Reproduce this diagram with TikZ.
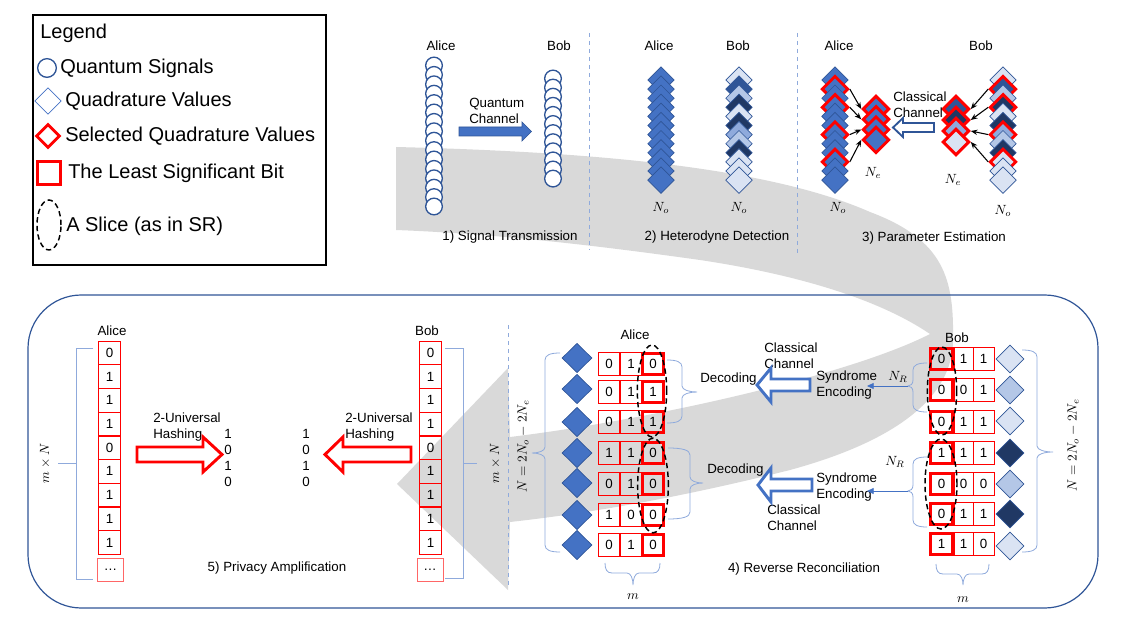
\documentclass[tikz,border=0pt]{standalone}
\usepackage{fontspec}
\setmainfont{Liberation Sans}
\usetikzlibrary{shapes.geometric,arrows.meta}
\definecolor{bA}{HTML}{4472C4}
\definecolor{bD}{HTML}{2F5597}
\definecolor{bN}{HTML}{203864}
\definecolor{bL}{HTML}{DAE3F3}
\definecolor{bM}{HTML}{B4C7E7}
\definecolor{bMM}{HTML}{8FAADC}
\definecolor{rd}{HTML}{FF0000}
\definecolor{gr}{HTML}{D9D9D9}
\newcommand\myBraceV[6]{%
 \draw[brc] ({#1+(#5)},#2) .. controls ({#1+0.35*(#5)},#2) and (#1,{#2+2}) .. (#1,{#2+7})
   -- (#1,{#4-6}) .. controls (#1,{#4-2}) and ({#1+0.5*(#6)},#4) .. ({#1+(#6)},#4)
   .. controls ({#1+0.5*(#6)},#4) and (#1,{#4+2}) .. (#1,{#4+6})
   -- (#1,{#3-7}) .. controls (#1,{#3-2}) and ({#1+0.35*(#5)},#3) .. ({#1+(#5)},#3);}
\newcommand\myBraceH[6]{%
 \draw[brc] (#2,{#1+(#5)}) .. controls (#2,{#1+0.35*(#5)}) and ({#2+2},#1) .. ({#2+7},#1)
  -- ({#4-6},#1) .. controls ({#4-2},#1) and (#4,{#1+0.5*(#6)}) .. (#4,{#1+(#6)})
  .. controls (#4,{#1+0.5*(#6)}) and ({#4+2},#1) .. ({#4+6},#1)
  -- ({#3-7},#1) .. controls ({#3-2},#1) and (#3,{#1+0.35*(#5)}) .. (#3,{#1+(#5)});}
\begin{document}
\begin{tikzpicture}[x=0.75pt,y=-0.75pt,
 txt/.style={inner sep=0pt, font=\fontsize{10}{12}\selectfont},
 leg/.style={inner sep=0pt, anchor=west, font=\fontsize{15}{18}\selectfont},
 sig/.style={circle, draw=bD, line width=1pt, fill=white, minimum size=12.5pt, inner sep=0pt},
 dia/.style={diamond, draw=bD, line width=0.5pt, minimum width=20pt, minimum height=20pt, inner sep=0pt},
 diar/.style={dia, draw=rd, line width=2.2pt},
 cell/.style={rectangle, draw=rd, line width=0.6pt, minimum width=16pt, minimum height=17.5pt, inner sep=0pt, font=\fontsize{10}{12}\selectfont},
 cellk/.style={cell, line width=2.2pt, minimum width=15.8pt, minimum height=15.8pt},
 pcell/.style={cell, minimum width=17pt, minimum height=17.6pt},
 slice/.style={ellipse, draw=black, dash pattern=on 4pt off 2.5pt, line width=1.1pt, inner sep=0pt},
 brc/.style={draw=bMM, line width=0.6pt},
 sepl/.style={draw=bMM, dashed, line width=0.6pt},
 arr/.style={draw=black, line width=0.8pt, -{Stealth[length=5pt,width=4pt]}},
 barr/.style={draw=bA, line width=0.6pt, -{Triangle[length=5pt,width=4.5pt]}},
]
\useasboundingbox (0,0) rectangle (1131,620);
% big grey process arrow
\fill[gr] (396,147) .. controls (600,152) and (770,168) .. (870,212)
  .. controls (945,240) and (954,280) .. (953,340)
  .. controls (953,395) and (900,440) .. (790,470)
  .. controls (690,495) and (600,512) .. (510,522)
  -- (508,590) -- (397,484) -- (508,368) -- (510,437)
  .. controls (650,420) and (850,375) .. (930,334)
  .. controls (880,300) and (800,275) .. (700,260)
  .. controls (600,246) and (500,234) .. (396,230) -- cycle;
% bottom frame
\draw[bD, line width=0.9pt, rounded corners=40pt] (28,295) rectangle (1098,608);
% ---------------- legend
\draw[black, line width=0.9pt] (33,15) rectangle (326,265);
\node[leg] (legT) at (40,33) {Legend};
\node[sig, minimum size=14pt] (lgC) at (47,68) {};
\node[leg] (lgCt) at (60,68) {Quantum Signals};
\node[dia, draw=bA, minimum width=20pt, minimum height=20pt] (lgD) at (48,101) {};
\node[leg] (lgDt) at (65,101) {Quadrature Values};
\node[diar, fill=white, minimum width=18pt, minimum height=18pt] (lgR) at (48,136) {};
\node[leg] (lgRt) at (65,136) {Selected Quadrature Values};
\node[rectangle, draw=rd, line width=2.2pt, minimum size=17pt, inner sep=0pt] (lgS) at (49,173) {};
\node[leg] (lgSt) at (68,173) {The Least Significant Bit};
\node[slice, minimum width=18pt, minimum height=37.5pt] (lgE) at (49,225) {};
\node[leg] (lgEt) at (66,226) {A Slice (as in SR)};
% ---------------- 1) signal transmission
\node[txt] (s1A) at (441,46) {Alice};
\node[txt] (s1B) at (559,46) {Bob};
\foreach \i in {1,...,16} \node[sig] (qa\i) at (434,{65.5+9.4*(\i-1)}) {};
\foreach \i in {1,...,12} \node[sig] (qb\i) at (553,{78.5+9.1*(\i-1)}) {};
\node[txt, align=left, anchor=west] (qch) at (469,111) {Quantum\\Channel};
\filldraw[fill=bA, draw=bD, line width=0.5pt] (459,127) -- (522,127) -- (522,122) -- (531.5,131.5) -- (522,141) -- (522,136) -- (459,136) -- cycle;
\node[txt] (t1) at (510,237) {1) Signal Transmission};
\draw[sepl] (589,33) -- (589,250);
\draw[sepl] (797,33) -- (797,255);
% ---------------- 2) heterodyne detection
\node[txt] (s2A) at (659,46) {Alice};
\node[txt] (s2B) at (738,46) {Bob};
\foreach \i in {1,...,12} \node[dia, fill=bA] (ha\i) at (661,{80+9.1*(\i-1)}) {};
\foreach \i/\c in {1/bL,2/bD,3/bM,4/bN,5/bL,6/bN,7/bMM,8/bM,9/bN,10/bL,11/bL,12/bL}
  \node[dia, fill=\c] (hb\i) at (739,{80+9.1*(\i-1)}) {};
\node[txt] (n2a) at (661,208) {$N_o$};
\node[txt] (n2b) at (739,208) {$N_o$};
\node[txt] (t2) at (717,237) {2) Heterodyne Detection};
% ---------------- 3) parameter estimation
\node[txt] (s3A) at (839,46) {Alice};
\node[txt] (s3B) at (981,46) {Bob};
\foreach \i/\s in {1/dia,2/diar,3/dia,4/diar,5/dia,6/dia,7/diar,8/dia,9/dia,10/diar,11/dia,12/dia}
  \node[\s, fill=bA] (pa\i) at (835,{80+9.1*(\i-1)}) {};
\foreach \i/\s/\c in {1/dia/bL,2/diar/bD,3/dia/bM,4/diar/bN,5/dia/bL,6/dia/bN,7/diar/bMM,8/dia/bM,9/dia/bN,10/diar/bL,11/dia/bL,12/dia/bL}
  \node[\s, fill=\c] (pb\i) at (1003,{80+9.1*(\i-1)}) {};
\foreach \i in {1,...,4} \node[diar, fill=bA] (sa\i) at (876,{109+10.3*(\i-1)}) {};
\foreach \i/\c in {1/bD,2/bN,3/bMM,4/bL} \node[diar, fill=\c] (sb\i) at (956,{109+11*(\i-1)}) {};
\draw[arr] (pa2.east) -- (sa1.west);
\draw[arr] (pa4.east) -- (sa2.west);
\draw[arr] (pa7.east) -- (sa3.west);
\draw[arr] (pa10.east) -- (sa4.west);
\draw[arr] (pb2.west) -- (sb1.east);
\draw[arr] (pb4.west) -- (sb2.east);
\draw[arr] (pb7.west) -- (sb3.east);
\draw[arr] (pb10.west) -- (sb4.east);
\node[txt, align=left, anchor=west] (cc0) at (893,105) {Classical\\Channel};
\filldraw[fill=white, draw=bD, line width=1.4pt] (934,123) -- (903,123) -- (903,118) -- (893,127.5) -- (903,137) -- (903,132) -- (934,132) -- cycle;
\node[txt] (ne1) at (873,173) {$N_e$};
\node[txt] (ne2) at (953,180) {$N_e$};
\node[txt] (n3a) at (838,208) {$N_o$};
\node[txt] (n3b) at (1003,211) {$N_o$};
\node[txt] (t3) at (934,238) {3) Parameter Estimation};
% ---------------- 5) privacy amplification
\node[txt] (pA) at (112,331) {Alice};
\node[txt] (pB) at (427,331) {Bob};
\foreach \i/\d in {1/0,2/1,3/1,4/1,5/0,6/1,7/1,8/1,9/1} {
  \node[pcell] (ca\i) at (109.5,{352.9+23.7*(\i-1)}) {\d};
  \node[pcell] (cb\i) at (430.5,{352.9+23.7*(\i-1)}) {\d};
}
\node[pcell, draw=rd!60, minimum width=19.5pt] (ca10) at (110.5,570) {\ldots};
\node[pcell, draw=rd!60, minimum width=19.5pt] (cb10) at (430,570) {\ldots};
\draw[brc] (93,348) -- (76,348) -- (76,579) -- (93,579);
\draw[brc] (76,463) -- (58,463);
\draw[brc] (445,348) -- (463,348) -- (463,578) -- (445,578);
\draw[brc] (463,463) -- (477,463);
\node[txt, rotate=90] (mnA) at (45,463) {$m\times N$};
\node[txt, rotate=90] (mnB) at (495,463) {$m\times N$};
\node[txt, align=left, anchor=west] (hA) at (153,427) {2-Universal\\Hashing};
\node[txt, align=left, anchor=west] (hB) at (345,427) {2-Universal\\Hashing};
\filldraw[fill=white, draw=rd, line width=2.2pt] (137,447) -- (203,447) -- (203,437) -- (222,454.5) -- (203,472) -- (203,462) -- (137,462) -- cycle;
\filldraw[fill=white, draw=rd, line width=2.2pt] (411,447) -- (343,447) -- (343,437) -- (325,454.5) -- (343,472) -- (343,462) -- (411,462) -- cycle;
\node[txt, align=center] (ho1) at (228,457.5) {1\\0\\1\\0};
\node[txt, align=center] (ho2) at (306,457.5) {1\\0\\1\\0};
\node[txt] (t5) at (277,568) {5) Privacy Amplification};
\draw[sepl] (508,325) -- (508,588);
% ---------------- 4) reverse reconciliation: Alice
\node[txt] (rA) at (635,335) {Alice};
\foreach \i/\y in {1/358,2/389,3/422,4/453,5/483,6/515,7/545}
  \node[dia, fill=bA, minimum width=22.5pt, minimum height=22pt] (rd\i) at (577,\y) {};
\foreach \i/\y/\a/\b/\c in {1/364/0/1/0,2/392/0/1/1,3/422/0/1/1,4/453/1/1/0,5/484/0/1/0,6/515/1/0/0,7/545/0/1/0} {
  \node[cell] (rax\i) at (609,\y) {\a};
  \node[cell] (ray\i) at (631,\y) {\b};
  \node[cellk] (raz\i) at (653,\y) {\c};
}
\node[slice, minimum width=22pt, minimum height=69pt] (slA1) at (652,391) {};
\node[slice, minimum width=23pt, minimum height=71pt] (slA2) at (653,485.5) {};
\myBraceV{545}{353}{552}{453}{15}{-13}
\node[txt, rotate=90] (nA) at (523,446) {$N=2N_o-2N_e$};
\myBraceV{682}{360}{423}{392}{-15}{15}
\myBraceV{690}{448}{519}{483}{-22}{13}
\myBraceH{573}{605}{660}{633}{-10}{12}
\node[txt] (mA) at (633,597) {$m$};
% ---------------- reverse reconciliation: Bob
\node[txt] (rB) at (957,338) {Bob};
\foreach \i/\y/\c in {1/359/bL,2/390/bM,3/421/bL,4/453/bN,5/484/bM,6/514/bN,7/546/bL}
  \node[dia, fill=\c, minimum width=21pt, minimum height=21pt] (re\i) at (1010,\y) {};
\foreach \i/\y/\a/\b/\c in {1/359/0/1/1,2/390/0/0/1,3/422/0/1/1,4/453/1/1/1,5/484/0/0/0,6/514/0/1/1,7/544/1/1/0} {
  \node[cellk, minimum width=16.5pt] (rbx\i) at (941.5,\y) {\a};
  \node[cell, minimum width=14.2pt] (rby\i) at (963.5,\y) {\b};
  \node[cell, minimum width=15.7pt] (rbz\i) at (983.5,\y) {\c};
}
\node[slice, minimum width=22pt, minimum height=66pt] (slB1) at (942,391) {};
\node[slice, minimum width=24pt, minimum height=67.5pt] (slB2) at (941,484) {};
\myBraceV{1037}{350}{552}{452}{-15}{16}
\node[txt, rotate=90] (nB) at (1073,445) {$N=2N_o-2N_e$};
\myBraceH{574}{936}{989}{963}{-10}{11}
\node[txt] (mB) at (963,600) {$m$};
\myBraceV{913}{363}{412}{386}{14}{-5}
\myBraceV{913}{457}{527}{491}{14}{-5}
\node[txt] (nr1) at (898,377) {$N_R$};
\node[txt] (nr2) at (895,462) {$N_R$};
% ---------------- channel texts and arrows
\node[txt, align=left, anchor=west] (cc1) at (764,356) {Classical\\Channel};
\node[txt, anchor=west] (dec1) at (700,379) {Decoding};
\node[txt, align=left, anchor=west] (se1) at (816,385.5) {Syndrome\\Encoding};
\node[txt, anchor=west] (dec2) at (707,470) {Decoding};
\node[txt, align=left, anchor=west] (se2) at (816,487.5) {Syndrome\\Encoding};
\node[txt, align=left, anchor=west] (cc2) at (767,517.5) {Classical\\Channel};
\filldraw[fill=white, draw=bA, line width=2.2pt] (810,379) -- (771,379) -- (771,368) -- (757,385) -- (771,402) -- (771,391) -- (810,391) -- cycle;
\filldraw[fill=white, draw=bA, line width=2.2pt] (812,479) -- (771,479) -- (771,468) -- (758,485) -- (771,502) -- (771,491) -- (812,491) -- cycle;
\coordinate (br1) at (908,386);
\coordinate (br2) at (908,491);
\coordinate (se1t) at (867,386);
\coordinate (se2t) at (867,491);
\draw[barr] (br1) -- (se1t);
\draw[barr] (br2) -- (se2t);
\node[txt] (t4) at (804,569) {4) Reverse Reconciliation};
\end{tikzpicture}
\end{document}
